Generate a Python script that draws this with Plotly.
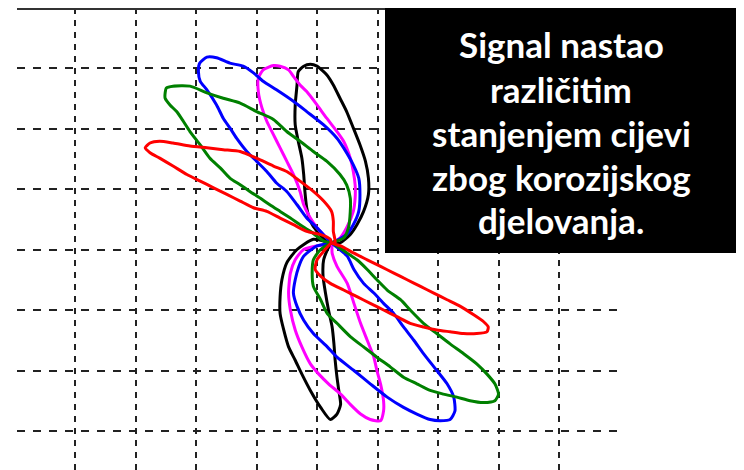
import plotly.graph_objects as go

# ---- data (grid divisions) ----
black_x = [4.24, 4.38, 4.55, 4.66, 4.77, 4.85, 4.85, 4.80, 4.71, 4.60, 4.49, 4.38, 4.27, 4.16, 4.00, 3.89,
           3.78, 3.69, 3.67, 3.64, 3.64, 3.69, 3.75, 3.78, 3.80, 3.83, 3.89, 4.00, 4.16, 4.24,
           4.19, 4.11, 4.10, 4.14, 4.19, 4.25, 4.28, 4.30, 4.33, 4.36, 4.39, 4.33, 4.22, 4.06, 3.89,
           3.75, 3.64, 3.53, 3.45, 3.39, 3.39, 3.42, 3.50, 3.67, 3.94, 4.24]
black_y = [3.11, 3.11, 3.25, 3.41, 3.63, 3.91, 4.18, 4.46, 4.73, 5.01, 5.28, 5.50, 5.72, 5.89, 6.03, 6.06,
           6.03, 5.94, 5.72, 5.39, 5.06, 4.79, 4.51, 4.24, 3.96, 3.69, 3.47, 3.30, 3.14, 3.11,
           3.03, 2.83, 2.56, 2.28, 2.00, 1.72, 1.44, 1.17, 0.89, 0.67, 0.44, 0.28, 0.19, 0.39, 0.67,
           0.94, 1.17, 1.39, 1.67, 1.94, 2.22, 2.50, 2.78, 3.00, 3.17, 3.11]

magenta_x = [4.24, 4.38, 4.49, 4.60, 4.63, 4.63, 4.60, 4.55, 4.44, 4.33, 4.16, 4.00, 3.83, 3.72, 3.61,
             3.53, 3.39, 3.28, 3.11, 3.03, 3.03, 3.09, 3.17, 3.28, 3.39, 3.50, 3.61, 3.72, 3.78, 3.89,
             4.00, 4.16, 4.24,
             4.25, 4.33, 4.50, 4.61, 4.72, 4.83, 4.94, 4.99, 5.05, 5.10, 5.10, 5.05, 4.88, 4.72, 4.55,
             4.39, 4.19, 4.03, 3.89, 3.75, 3.64, 3.56, 3.53, 3.56, 3.64, 3.78, 4.24]
magenta_y = [3.11, 3.19, 3.36, 3.63, 3.85, 4.07, 4.29, 4.51, 4.79, 4.95, 5.17, 5.39, 5.61, 5.72, 5.86,
             5.97, 6.03, 6.04, 5.97, 5.83, 5.61, 5.34, 5.12, 4.90, 4.68, 4.46, 4.24, 3.96, 3.74, 3.52,
             3.36, 3.19, 3.11,
             2.94, 2.72, 2.44, 2.11, 1.78, 1.50, 1.22, 1.00, 0.78, 0.50, 0.33, 0.17, 0.19, 0.28, 0.44,
             0.61, 0.78, 0.94, 1.11, 1.39, 1.67, 2.00, 2.28, 2.61, 2.83, 3.00, 3.11]

blue_x = [4.24, 4.49, 4.60, 4.69, 4.71, 4.69, 4.60, 4.44, 4.33, 4.11, 3.83, 3.61, 3.33, 3.11, 2.95,
          2.78, 2.56, 2.34, 2.18, 2.06, 2.04, 2.07, 2.18, 2.34, 2.45, 2.56, 2.67, 2.84, 3.00, 3.17,
          3.33, 3.50, 3.67, 3.83, 4.00, 4.16, 4.24,
          4.50, 4.61, 4.77, 4.94, 5.10, 5.27, 5.43, 5.60, 5.76, 5.98, 6.15, 6.26, 6.28, 6.20, 6.04,
          5.87, 5.65, 5.43, 5.16, 4.88, 4.61, 4.33, 4.17, 3.94, 3.78, 3.67, 3.61, 3.64, 3.70, 3.78,
          4.00, 4.24]
blue_y = [3.11, 3.25, 3.41, 3.63, 3.91, 4.18, 4.40, 4.68, 4.84, 5.06, 5.28, 5.45, 5.64, 5.78, 5.92,
          6.03, 6.08, 6.17, 6.18, 6.08, 5.94, 5.78, 5.64, 5.39, 5.17, 5.01, 4.84, 4.62, 4.46, 4.29,
          4.10, 3.96, 3.74, 3.52, 3.36, 3.19, 3.11,
          2.89, 2.67, 2.44, 2.28, 2.11, 1.94, 1.72, 1.50, 1.28, 1.00, 0.78, 0.56, 0.33, 0.19, 0.17,
          0.19, 0.28, 0.39, 0.56, 0.78, 1.00, 1.22, 1.39, 1.61, 1.83, 2.06, 2.28, 2.50, 2.72, 2.89,
          3.06, 3.11]

green_x = [4.24, 4.44, 4.52, 4.55, 4.55, 4.49, 4.38, 4.16, 3.94, 3.72, 3.50, 3.28, 3.00, 2.73, 2.45,
           2.18, 1.90, 1.62, 1.51, 1.49, 1.49, 1.57, 1.68, 1.79, 1.90, 2.07, 2.23, 2.40, 2.56, 2.73,
           2.89, 3.06, 3.22, 3.39, 3.56, 3.72, 3.89, 4.11, 4.24,
           4.33, 4.50, 4.66, 4.83, 4.99, 5.16, 5.38, 5.54, 5.76, 5.98, 6.20, 6.42, 6.64, 6.81, 6.94,
           7.00, 6.94, 6.75, 6.53, 6.31, 6.09, 5.87, 5.65, 5.43, 5.21, 4.99, 4.77, 4.55, 4.33, 4.17,
           4.06, 3.94, 3.92, 3.94, 4.06, 4.24]
green_y = [3.11, 3.19, 3.36, 3.63, 3.85, 4.07, 4.24, 4.46, 4.62, 4.79, 4.95, 5.15, 5.28, 5.42, 5.50,
           5.59, 5.70, 5.70, 5.67, 5.59, 5.50, 5.39, 5.28, 5.12, 4.95, 4.73, 4.51, 4.35, 4.18, 4.07,
           3.96, 3.85, 3.74, 3.63, 3.52, 3.41, 3.30, 3.14, 3.11,
           3.06, 2.94, 2.83, 2.67, 2.50, 2.33, 2.17, 2.00, 1.78, 1.61, 1.44, 1.28, 1.11, 0.94, 0.78,
           0.61, 0.50, 0.47, 0.50, 0.56, 0.61, 0.67, 0.78, 0.89, 1.06, 1.22, 1.39, 1.56, 1.78, 1.94,
           2.17, 2.39, 2.61, 2.83, 3.00, 3.11]

red_x = [4.24, 4.30, 4.27, 4.27, 4.24, 4.11, 3.94, 3.72, 3.50, 3.28, 3.00, 2.73, 2.45, 2.18, 1.90,
         1.62, 1.40, 1.24, 1.16, 1.24, 1.40, 1.62, 1.85, 2.07, 2.29, 2.51, 2.73, 2.95, 3.17, 3.39,
         3.61, 3.83, 4.05, 4.22, 4.24,
         4.39, 4.61, 4.83, 5.05, 5.27, 5.49, 5.71, 5.93, 6.15, 6.37, 6.59, 6.75, 6.83, 6.81, 6.64,
         6.42, 6.20, 5.98, 5.76, 5.54, 5.32, 5.10, 4.88, 4.66, 4.44, 4.22, 4.06, 3.97, 4.00, 4.11,
         4.24]
red_y = [3.11, 3.11, 3.30, 3.47, 3.63, 3.80, 3.96, 4.13, 4.29, 4.38, 4.51, 4.62, 4.65, 4.68, 4.71,
         4.76, 4.79, 4.76, 4.68, 4.60, 4.51, 4.38, 4.24, 4.13, 4.02, 3.91, 3.80, 3.69, 3.63, 3.52,
         3.41, 3.30, 3.25, 3.17, 3.11,
         3.06, 2.94, 2.83, 2.72, 2.61, 2.50, 2.39, 2.28, 2.17, 2.06, 1.92, 1.81, 1.72, 1.64, 1.61,
         1.61, 1.64, 1.67, 1.72, 1.78, 1.89, 2.00, 2.11, 2.22, 2.33, 2.44, 2.56, 2.67, 2.83, 2.97,
         3.11]

series_names = ["black", "magenta", "blue", "green", "red"]
series_x = [black_x, magenta_x, blue_x, green_x, red_x]
series_y = [black_y, magenta_y, blue_y, green_y, red_y]
series_colors = ["#000000", "#FF00FF", "#0000FF", "#008000", "#FF0000"]

x_grid = [0, 1, 2, 3, 4, 5, 6, 7, 8]
y_grid = [0, 1, 2, 3, 4, 5, 6]

text_lines = ["Signal nastao", "različitim", "stanjenjem cijevi", "zbog korozijskog", "djelovanja."]

# ---- figure ----
# The page body has an 8px margin, so the figure is drawn 8px right/down.
OFF = 8
W, H = 744 - OFF, 470 - OFF
# plot area in page pixels: x 17..620, y 8..470
PL, PR, PT, PB = 17, 620, 8, 470
ML, MR, MT, MB = PL - OFF, (W + OFF) - PR, PT - OFF, (H + OFF) - PB
UNIT = 60.5
X_RANGE = [(PL - 75) / UNIT, (PR - 75) / UNIT]
Y_RANGE = [(431 - PB) / UNIT, (431 - PT) / UNIT]


def px_to_paper_x(px):
    return (px - PL) / (PR - PL)


def py_to_paper_y(py):
    return (PB - py) / (PB - PT)


fig = go.Figure()
for name, xs, ys, col in zip(series_names, series_x, series_y, series_colors):
    fig.add_trace(go.Scatter(x=xs, y=ys, mode="lines", name=name,
                             line=dict(color=col, width=3, shape="spline", smoothing=0.6),
                             hoverinfo="skip"))

# top solid border
fig.add_shape(type="line", xref="paper", yref="paper", x0=0, x1=px_to_paper_x(500),
              y0=py_to_paper_y(9), y1=py_to_paper_y(9),
              line=dict(color="#333333", width=2))

# black text box
fig.add_shape(type="rect", xref="paper", yref="paper",
              x0=px_to_paper_x(385), x1=px_to_paper_x(737),
              y0=py_to_paper_y(253), y1=py_to_paper_y(8),
              fillcolor="#000000", line=dict(width=0), layer="above")

line_centers = [44, 89, 133, 177, 220]
for txt, cy in zip(text_lines, line_centers):
    fig.add_annotation(text=txt, xref="paper", yref="paper",
                       x=px_to_paper_x(561), y=py_to_paper_y(cy),
                       xanchor="center", yanchor="middle", showarrow=False,
                       font=dict(family="Lato", size=35, color="#FFFFFF", weight="bold"))

fig.update_xaxes(range=X_RANGE, tickvals=x_grid, showticklabels=False, ticks="",
                 showgrid=True, gridcolor="#222222", gridwidth=2, griddash="6px,6px",
                 zeroline=False, showline=False, fixedrange=True)
fig.update_yaxes(range=Y_RANGE, tickvals=y_grid, showticklabels=False, ticks="",
                 showgrid=True, gridcolor="#222222", gridwidth=2, griddash="8px,8px",
                 zeroline=False, showline=False, fixedrange=True)

fig.update_layout(width=W, height=H, margin=dict(l=ML, r=MR, t=MT, b=MB, pad=0),
                  paper_bgcolor="white", plot_bgcolor="white", showlegend=False)

fig.write_html("out.html")
